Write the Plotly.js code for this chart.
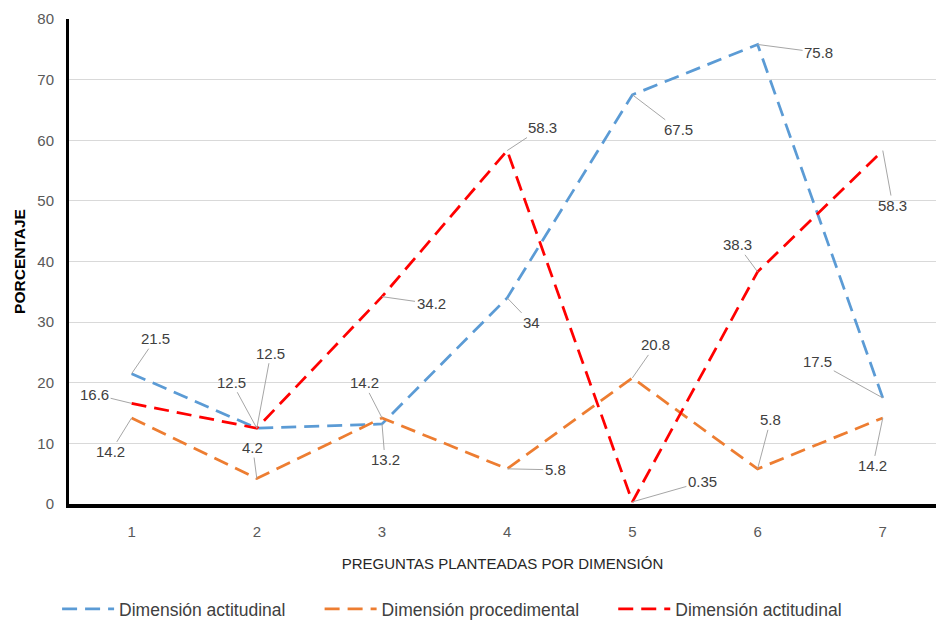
<!DOCTYPE html>
<html>
<head>
<meta charset="utf-8">
<script src="https://cdn.plot.ly/plotly-3.0.1.min.js"></script>
<style>html,body{margin:0;padding:0;background:#fff;}#chart{width:936px;height:623px;}</style>
</head>
<body>
<div id="chart"></div>
<script>
// Data
var categories = [1, 2, 3, 4, 5, 6, 7];
var seriesNames = ["Dimensión actitudinal", "Dimensión procedimental", "Dimensión actitudinal"];
var actitudinalA = [21.5, 12.5, 13.2, 34, 67.5, 75.8, 17.5];
var procedimental = [14.2, 4.2, 14.2, 5.8, 20.8, 5.8, 14.2];
var actitudinalB = [16.6, 12.5, 34.2, 58.3, 0.35, 38.3, 58.3];
var yTicks = [0, 10, 20, 30, 40, 50, 60, 70, 80];

// Label offsets (pixels) for leader-line data labels
var offA = [[24,-35],[-25,-46],[3,36],[24,25],[46,35],[61,8],[-65,-36]];
var offP = [[-21,34],[-4,-31],[-18,-35],[48,1],[23,-33],[13,-49],[-10,48]];
var offB = [[-37,-9],[14,-75],[49,7],[35,-23],[70,-20],[-20,-27],[10,55]];

var colors = ["#5B9BD5", "#ED7D31", "#FF0000"];
var fam = "'Liberation Sans', Arial, sans-serif";
var pad = "\u00A0\u00A0\u00A0\u00A0\u00A0\u00A0";

var seriesData = [actitudinalA, procedimental, actitudinalB];
var offsets = [offA, offP, offB];

var traces = seriesData.map(function(vals, i) {
  return {
    x: categories, y: vals, type: "scatter", mode: "lines",
    name: seriesNames[i] + (i < 2 ? pad : ""),
    line: {color: colors[i], width: 2.75, dash: "15px,8px"},
    hoverinfo: "skip"
  };
});

var annotations = [];
seriesData.forEach(function(vals, i) {
  vals.forEach(function(v, j) {
    annotations.push({
      x: categories[j], y: v, xref: "x", yref: "y",
      text: String(v), showarrow: true, arrowhead: 0, arrowwidth: 1,
      arrowcolor: "#A6A6A6", ax: offsets[i][j][0], ay: offsets[i][j][1],
      standoff: 0, startstandoff: 0,
      font: {family: fam, size: 15, color: "#404040"}
    });
  });
});

var layout = {
  width: 936, height: 623,
  margin: {l: 69, r: 0, t: 19, b: 119},
  paper_bgcolor: "#fff", plot_bgcolor: "#fff",
  showlegend: true,
  legend: {
    orientation: "h", xref: "container", yref: "container",
    x: 0.483, xanchor: "center", y: 0.0225, yanchor: "middle",
    itemwidth: 52,
    font: {family: fam, size: 17.5, color: "#404040"}
  },
  xaxis: {
    range: [0.5, 7.425], tickvals: categories, ticktext: categories.map(String),
    showgrid: false, zeroline: false, showline: true, linecolor: "#000", linewidth: 4,
    ticks: "", ticklabelstandoff: 11,
    tickfont: {family: fam, size: 15, color: "#595959"},
    title: {text: "PREGUNTAS PLANTEADAS POR DIMENSIÓN", font: {family: fam, size: 15, color: "#262626"}, standoff: 20},
    fixedrange: true
  },
  yaxis: {
    range: [0, 80], tickvals: yTicks, ticktext: yTicks.map(String),
    showgrid: true, gridcolor: "#D9D9D9", gridwidth: 1,
    zeroline: false, showline: true, linecolor: "#000", linewidth: 3,
    ticks: "", ticklabelstandoff: 9,
    tickfont: {family: fam, size: 15, color: "#595959"},
    title: {text: "<b>PORCENTAJE</b>", font: {family: fam, size: 15.5, color: "#000"}, standoff: 8},
    fixedrange: true
  },
  annotations: annotations
};

Plotly.newPlot("chart", traces, layout, {displayModeBar: false, staticPlot: true});
</script>
</body>
</html>
